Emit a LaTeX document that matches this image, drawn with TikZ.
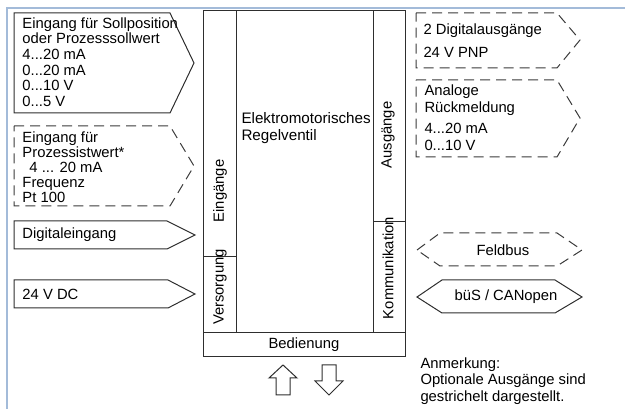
\documentclass[tikz,border=0pt]{standalone}
\usepackage{fontspec}
\setmainfont{Liberation Sans}
\definecolor{framecol}{HTML}{A3BBD9}
\definecolor{linecol}{HTML}{2E2E2E}
\definecolor{optcol}{HTML}{3A3A3A}
\begin{document}
\begin{tikzpicture}[x=1pt,y=-1pt,line width=1pt,draw=linecol,
  opt/.style={draw=optcol,dash pattern=on 10pt off 6pt},
  lbl/.style={inner sep=0pt,anchor=west,align=left,font=\fontsize{14.8}{15.6}\selectfont},
  sidelbl/.style={inner sep=0pt,rotate=90,font=\fontsize{14.8}{15.6}\selectfont}]
\useasboundingbox (0,0) rectangle (625,409);
\draw[framecol,line width=2pt] (7,409) -- (7,8) -- (625,8);
%\draw[gray] (0,0) rectangle (625,409);

% Eingaenge
\draw (14,13) -- (170,13) -- (194,63) -- (170,113) -- (14,113) -- cycle;
\node[lbl] (soll) at (22,62) {Eingang für Sollposition\\oder Prozesssollwert\\4...20 mA\\0...20 mA\\0...10 V\\0...5 V};
\draw[opt] (14,126) -- (170,126) -- (194,166) -- (170,206) -- (14,206) -- cycle;
\node[lbl,font=\fontsize{14.8}{15}\selectfont] (ist) at (22,167) {Eingang für\\Prozessistwert*\\\hspace*{7pt}4 ... 20 mA\\Frequenz\\Pt 100};
\draw (14,221) -- (167,221) -- (195,235) -- (167,249) -- (14,249) -- cycle;
\node[lbl] (digin) at (22,235) {Digitaleingang};
\draw (14,280) -- (168,280) -- (195,294) -- (168,308) -- (14,308) -- cycle;
\node[lbl] (dc) at (22,294) {24 V DC};

% Regelventil
\draw (203,11) rectangle (405,357);
\draw (203,333) -- (405,333);
\draw (236,11) -- (236,333);
\draw (373,11) -- (373,333);
\draw (203,257) -- (236,257);
\draw (373,222) -- (405,222);
\node[lbl,font=\fontsize{15.2}{17}\selectfont] (ventil) at (241,128) {Elektromotorisches\\Regelventil};
\node[sidelbl] (eing) at (220,191) {Eingänge};
\node[sidelbl] (versorg) at (220,287) {Versorgung};
\node[sidelbl] (ausg) at (388,135) {Ausgänge};
\node[sidelbl] (komm) at (388,268) {Kommunikation};
\node[lbl,anchor=center] (bedien) at (304,345) {Bedienung};
\draw (283,365) -- (297,378) -- (290,378) -- (290,395) -- (276,395) -- (276,378) -- (269,378) -- cycle;
\draw (329,395) -- (343,381) -- (336,381) -- (336,365) -- (322,365) -- (322,381) -- (315,381) -- cycle;

% Ausgaenge
\draw[opt] (416,13) -- (557,13) -- (580,40) -- (557,68) -- (416,68) -- cycle;
\node[lbl,font=\fontsize{14.8}{17}\selectfont] (digout) at (423,41) {2 Digitalausgänge\\[6pt]24 V PNP};
\draw[opt] (416,80) -- (557,80) -- (580,118) -- (557,157) -- (416,157) -- cycle;
\node[lbl,font=\fontsize{14.8}{17}\selectfont] (rueck) at (424,118) {Analoge\\Rückmeldung\\[4pt]4...20 mA\\0...10 V};
\draw[opt] (417,250) -- (440,233) -- (557,233) -- (582,250) -- (557,266) -- (440,266) -- cycle;
\node[lbl,anchor=center] (feldbus) at (503,250) {Feldbus};
\draw (417,297) -- (442,280) -- (555,280) -- (582,297) -- (555,313) -- (442,313) -- cycle;
\node[lbl,anchor=center] (bus) at (506,297) {büS / CANopen};
\node[lbl,font=\fontsize{14.8}{16.5}\selectfont] (note) at (420,381) {Anmerkung:\\Optionale Ausgänge sind\\gestrichelt dargestellt.};
\end{tikzpicture}
\end{document}
